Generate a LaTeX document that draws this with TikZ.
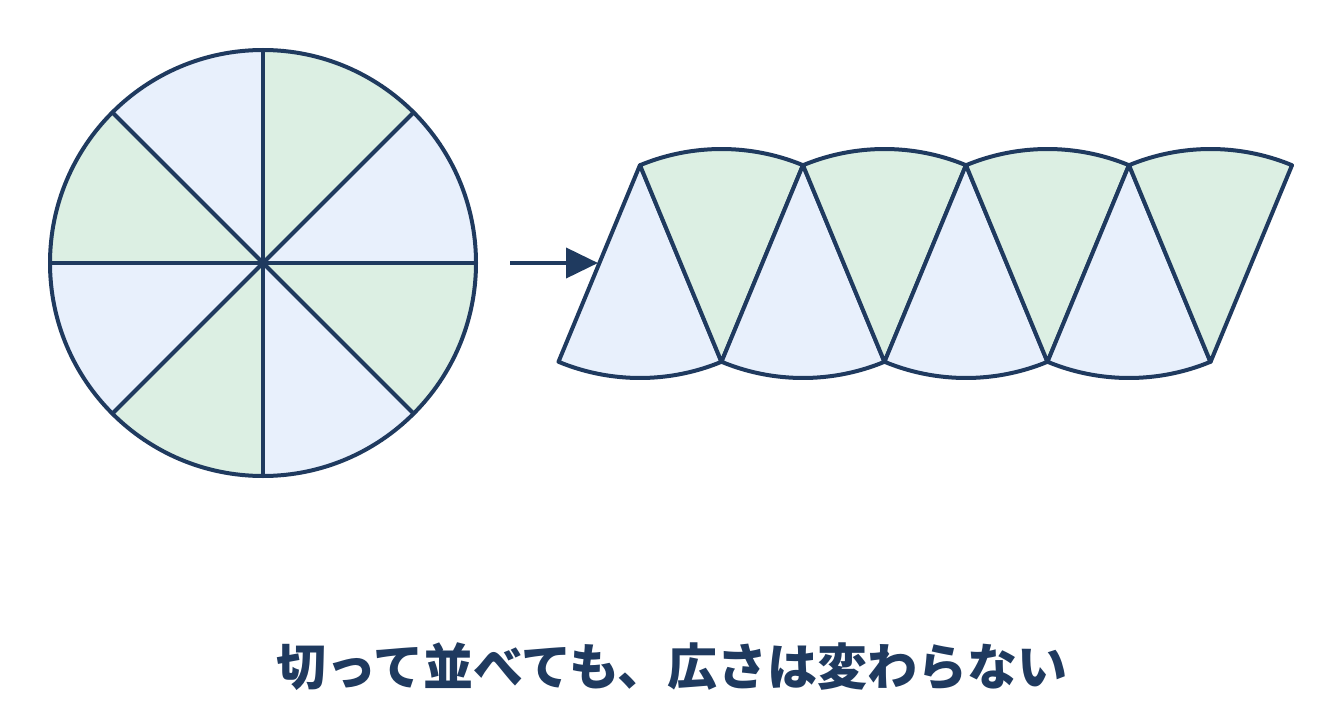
\documentclass[tikz,border=0pt]{standalone}
\usepackage{fontspec}
\newfontfamily\cjk{Noto Sans CJK JP}
\usetikzlibrary{arrows.meta}
\definecolor{navy}{HTML}{1F3A5F}
\definecolor{pieblue}{HTML}{E8F0FC}
\definecolor{piegreen}{HTML}{DCEFE3}
\begin{document}
\begin{tikzpicture}[x=1pt,y=-1pt,line join=round]
  \tikzstyle{piece}=[draw=navy, line width=4pt]
  \tikzstyle{connect}=[draw=navy, line width=4pt, -{Triangle[length=32pt,width=30pt]}]
  \useasboundingbox (0,0) rectangle (1344,725);
  % circle cut in eight
  \coordinate (c) at (263,263);
  \foreach \a in {0,90,180,270}{
    \fill[piegreen] (c) -- ++(\a:213) arc[start angle=\a, end angle=\a+45, radius=213] -- cycle;
    \fill[pieblue] (c) -- ++(\a+45:213) arc[start angle=\a+45, end angle=\a+90, radius=213] -- cycle;
  }
  \foreach \a in {0,45,...,315}{
    \draw[piece] (c) -- ++(\a:213);
  }
  \draw[piece] (c) circle[radius=213];
  % pieces laid out in a row
  \foreach \x in {640,803,966,1129}{
    \path[piece, fill=pieblue] (\x,165) -- ++(112.5:213) arc[start angle=112.5, end angle=67.5, radius=213] -- cycle;
    \path[piece, fill=piegreen] (\x+81.5,362) -- ++(-112.5:213) arc[start angle=-112.5, end angle=-67.5, radius=213] -- cycle;
  }
  \coordinate (from) at (510,263);
  \coordinate (to) at (598,263);
  \draw[connect] (from) -- (to);
  \node[text=navy, font=\cjk\bfseries\fontsize{50}{60}\selectfont] (caption) at (672,667) {切って並べても、広さは変わらない};
\end{tikzpicture}
\end{document}
